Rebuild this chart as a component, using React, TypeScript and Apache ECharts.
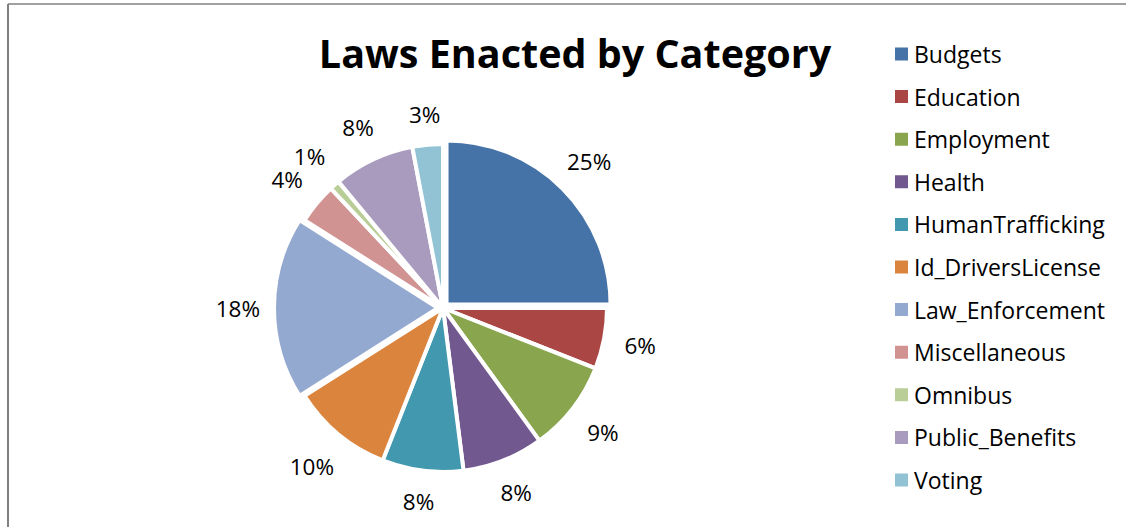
import React, { useEffect, useRef } from "react";
import * as echarts from "echarts";

const categories = [
  "Budgets",
  "Education",
  "Employment",
  "Health",
  "HumanTrafficking",
  "Id_DriversLicense",
  "Law_Enforcement",
  "Miscellaneous",
  "Omnibus",
  "Public_Benefits",
  "Voting",
];
const values = [25, 6, 9, 8, 8, 10, 18, 4, 1, 8, 3];
const exploded = ["Budgets", "Law_Enforcement"];
const colors = [
  "#4572A7",
  "#AA4643",
  "#89A54E",
  "#71588F",
  "#4198AF",
  "#DB843D",
  "#93A9CF",
  "#D19392",
  "#B9CD96",
  "#A99BBD",
  "#92C3D5",
];
const titleText = "Laws Enacted by Category";
const FONT = "'Open Sans', 'Noto Sans', sans-serif";

export default function App() {
  const ref = useRef<HTMLDivElement>(null);
  useEffect(() => {
    document.body.style.margin = "0";
    const chart = echarts.init(ref.current!, null, { renderer: "svg" });
    const center = [443, 308];
    const labelGap = 181;
    chart.setOption({
      animation: false,
      backgroundColor: "#fff",
      color: colors,
      title: {
        text: titleText,
        left: 570,
        top: 28,
        textAlign: "center",
        textStyle: {
          fontFamily: FONT,
          fontWeight: "bold",
          fontSize: 39.5,
          color: "#000",
        },
      },
      legend: {
        orient: "vertical",
        left: 893,
        top: 42,
        padding: 0,
        itemWidth: 15,
        itemHeight: 15,
        itemGap: 18.6,
        icon: "rect",
        selectedMode: false,
        textStyle: {
          fontFamily: FONT,
          fontSize: 23,
          color: "#000",
          lineHeight: 24,
        },
        data: categories,
      },
      graphic: [
        {
          type: "line",
          shape: { x1: 8, y1: 4, x2: 1126, y2: 4 },
          style: { stroke: "#808080", lineWidth: 1.5 },
        },
        {
          type: "line",
          shape: { x1: 8, y1: 4, x2: 8, y2: 527 },
          style: { stroke: "#808080", lineWidth: 2 },
        },
      ],
      series: [
        {
          type: "pie",
          center,
          radius: 164,
          startAngle: 90,
          clockwise: true,
          selectedMode: "multiple",
          selectedOffset: 5,
          itemStyle: { borderColor: "#fff", borderWidth: 4 },
          label: { show: false },
          labelLine: { show: false },
          emphasis: { disabled: true },
          data: categories.map((name, i) => ({
            name,
            value: values[i],
            selected: exploded.includes(name),
          })),
        },
        {
          type: "pie",
          center,
          radius: 164,
          startAngle: 90,
          clockwise: true,
          silent: true,
          legendHoverLink: false,
          avoidLabelOverlap: false,
          minShowLabelAngle: 0,
          itemStyle: { color: "rgba(0,0,0,0)", borderWidth: 0 },
          label: {
            show: true,
            position: "outside",
            formatter: "{d}%",
            fontFamily: FONT,
            fontSize: 22.5,
            color: "#000",
          },
          labelLine: { show: false, length: 0, length2: 0 },
          labelLayout: (p: any) => {
            const r = p.labelRect;
            const midX = r.x + r.width / 2;
            const ay = r.y + r.height / 2;
            const ax = midX > center[0] ? r.x - 5 : r.x + r.width + 5;
            const dx = ax - center[0];
            const dy = ay - center[1];
            const len = Math.hypot(dx, dy) || 1;
            const ux = dx / len;
            const uy = dy / len;
            const support = Math.abs(ux) * (r.width / 2 + 2) + Math.abs(uy) * 12;
            const d = labelGap + support;
            return {
              x: center[0] + ux * d,
              y: center[1] + uy * d,
              align: "center",
              verticalAlign: "middle",
            };
          },
          emphasis: { disabled: true },
          data: categories.map((name, i) => ({ name, value: values[i] })),
        },
      ],
    });
    return () => chart.dispose();
  }, []);
  return <div ref={ref} style={{ width: 1126, height: 527 }} />;
}
